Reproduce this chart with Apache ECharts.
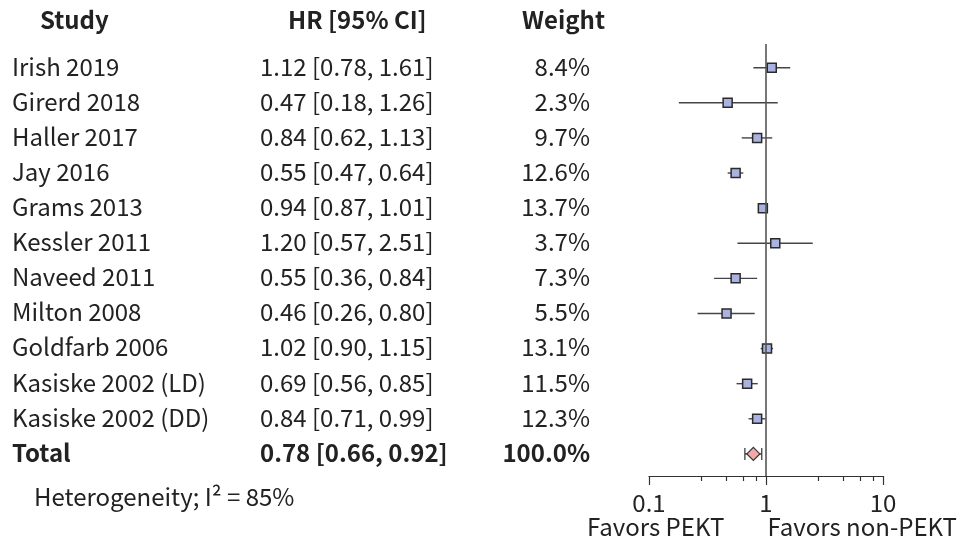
<!DOCTYPE html>
<html>
<head>
<meta charset="utf-8">
<script src="https://cdn.jsdelivr.net/npm/echarts@6/dist/echarts.min.js"></script>
<style>
  html, body { margin: 0; padding: 0; background: #fff; }
  #chart { width: 962px; height: 548px; }
</style>
</head>
<body>
<div id="chart"></div>
<script>
// forest plot data
var studies = ['Irish 2019', 'Girerd 2018', 'Haller 2017', 'Jay 2016', 'Grams 2013', 'Kessler 2011',
  'Naveed 2011', 'Milton 2008', 'Goldfarb 2006', 'Kasiske 2002 (LD)', 'Kasiske 2002 (DD)', 'Total'];
var hr = [1.12, 0.47, 0.84, 0.55, 0.94, 1.20, 0.55, 0.46, 1.02, 0.69, 0.84, 0.78];
var ciLow = [0.78, 0.18, 0.62, 0.47, 0.87, 0.57, 0.36, 0.26, 0.90, 0.56, 0.71, 0.66];
var ciHigh = [1.61, 1.26, 1.13, 0.64, 1.01, 2.51, 0.84, 0.80, 1.15, 0.85, 0.99, 0.92];
var weights = [8.4, 2.3, 9.7, 12.6, 13.7, 3.7, 7.3, 5.5, 13.1, 11.5, 12.3, 100.0];
var xTicks = [0.1, 1, 10];

var FONT = '"Noto Sans CJK KR", "Noto Sans", sans-serif';
var TXT = '#222';
var FS = 24;
var totalIdx = studies.length - 1;

var chart = echarts.init(document.getElementById('chart'));

var rows = hr.map(function (v, i) { return [v, ciLow[i], ciHigh[i], i]; });
var hrLabels = hr.map(function (v, i) {
  return v.toFixed(2) + ' [' + ciLow[i].toFixed(2) + ', ' + ciHigh[i].toFixed(2) + ']';
});
var wLabels = weights.map(function (w) { return w.toFixed(1) + '%'; });

function boldLast(val, idx) {
  return idx === totalIdx ? '{b|' + val + '}' : '{n|' + val + '}';
}
var rich = {
  n: { fontFamily: FONT, fontSize: FS, color: TXT },
  b: { fontFamily: FONT, fontSize: FS, color: TXT, fontWeight: 'bold' }
};

function labelAxis(data, margin, align) {
  return {
    type: 'category', gridIndex: 1, position: 'left', inverse: true,
    data: data,
    axisLine: { show: false }, axisTick: { show: false }, splitLine: { show: false },
    axisLabel: { margin: margin, align: align, formatter: boldLast, rich: rich }
  };
}

function renderRow(params, api) {
  var idx = api.value(3);
  var mid = api.coord([api.value(0), idx]);
  var lo = api.coord([api.value(1), idx]);
  var hi = api.coord([api.value(2), idx]);
  var y = mid[1];
  var els = [{
    type: 'line',
    shape: { x1: lo[0], y1: y, x2: hi[0], y2: y },
    style: { stroke: '#444', lineWidth: 1.4 }
  }];
  if (idx === totalIdx) {
    els.push({ type: 'line', shape: { x1: lo[0], y1: y - 6, x2: lo[0], y2: y + 6 }, style: { stroke: '#333', lineWidth: 1.2 } });
    els.push({ type: 'line', shape: { x1: hi[0], y1: y - 6, x2: hi[0], y2: y + 6 }, style: { stroke: '#333', lineWidth: 1.2 } });
    els.push({
      type: 'polygon',
      shape: { points: [[mid[0] - 6.5, y], [mid[0], y - 6.5], [mid[0] + 6.5, y], [mid[0], y + 6.5]] },
      style: { fill: '#f3a8a8', stroke: '#333', lineWidth: 1.2 }
    });
  } else {
    els.push({
      type: 'rect',
      shape: { x: mid[0] - 4.5, y: y - 4.5, width: 9, height: 9 },
      style: { fill: '#aab3e0', stroke: '#2a2a2a', lineWidth: 1.5 }
    });
  }
  return { type: 'group', children: els };
}

var option = {
  backgroundColor: '#ffffff',
  animation: false,
  grid: [
    { left: 649, right: 79, top: 44, bottom: 72 },
    { left: 640, width: 10, top: 49, height: 421.2 }
  ],
  xAxis: [{
    type: 'log', logBase: 10, gridIndex: 0, min: 0.1, max: 10, interval: 1,
    axisLine: { onZero: false, lineStyle: { color: '#333', width: 1.2 } },
    axisTick: { length: 9, lineStyle: { color: '#333', width: 1.2 } },
    minorTick: { show: true, splitNumber: 5, length: 5, lineStyle: { color: '#333', width: 1.2 } },
    splitLine: { show: false },
    axisLabel: {
      margin: 15, fontFamily: FONT, fontSize: FS, color: TXT,
      formatter: function (v) { return xTicks.indexOf(+v.toPrecision(3)) >= 0 ? String(+v.toPrecision(3)) : ''; }
    }
  }, {
    type: 'value', gridIndex: 1, show: false
  }],
  yAxis: [
    { type: 'value', gridIndex: 0, inverse: true, min: -0.675, max: 11.63, show: false },
    labelAxis(studies, 628, 'left'),
    labelAxis(hrLabels, 380, 'left'),
    labelAxis(wLabels, 50, 'right')
  ],
  graphic: [
    { type: 'text', left: 40, top: 8, style: { text: 'Study', font: 'bold 24px ' + FONT, fill: TXT } },
    { type: 'text', left: 288, top: 8, style: { text: 'HR [95% CI]', font: 'bold 24px ' + FONT, fill: TXT } },
    { type: 'text', left: 522, top: 8, style: { text: 'Weight', font: 'bold 24px ' + FONT, fill: TXT } },
    { type: 'text', left: 34, top: 485, style: { text: 'Heterogeneity; I² = 85%', font: '24px ' + FONT, fill: TXT } },
    { type: 'text', left: 587, top: 515, style: { text: 'Favors PEKT', font: '24px ' + FONT, fill: TXT } },
    { type: 'text', right: 5, top: 515, style: { text: 'Favors non-PEKT', font: '24px ' + FONT, fill: TXT } }
  ],
  series: [{
    type: 'custom',
    xAxisIndex: 0, yAxisIndex: 0,
    renderItem: renderRow,
    data: rows,
    markLine: {
      silent: true, symbol: 'none', label: { show: false },
      lineStyle: { color: '#555', width: 1.6, type: 'solid' },
      data: [{ xAxis: 1 }]
    },
    z: 3
  }]
};

chart.setOption(option);
</script>
</body>
</html>
